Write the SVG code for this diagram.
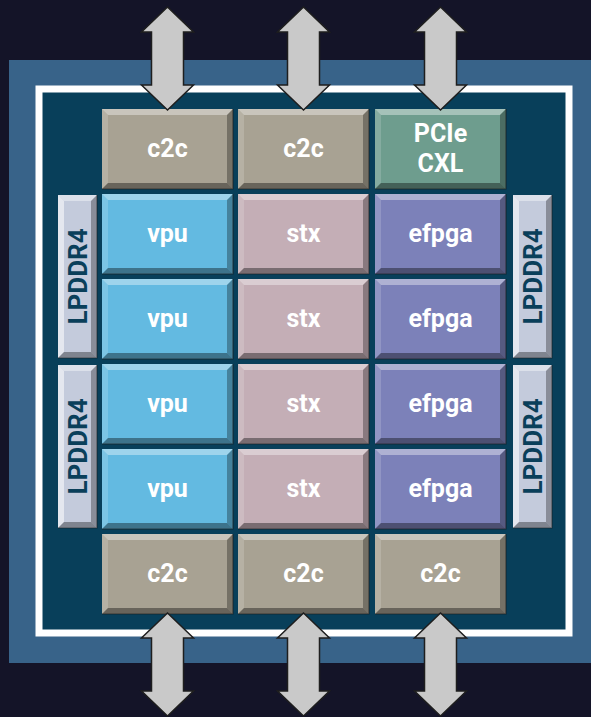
<svg xmlns="http://www.w3.org/2000/svg" xmlns:xlink="http://www.w3.org/1999/xlink" width="591" height="717" viewBox="0 0 591 717">
<style>
.lbl{font-family:Roboto,"Liberation Sans",sans-serif;font-weight:bold;font-size:25px;fill:#ffffff;text-anchor:middle}
.mem{font-family:Roboto,"Liberation Sans",sans-serif;font-weight:bold;font-size:26px;fill:#0a3f5a;text-anchor:middle}
.c2c{fill:#a8a293}
.pcie{fill:#6e9d8e}
.vpu{fill:#63bae1}
.stx{fill:#c4aeb6}
.efp{fill:#7c81b9}
.lp{fill:#c4cbdc}
.arrow{fill:#c9c9c9;stroke:#1e1e1e;stroke-width:1.5;stroke-linejoin:miter}
</style>
<defs>
<g id="bev">
<polygon points="0,0 131,0 125,6 6,6" fill="#ffffff" fill-opacity="0.38"/>
<polygon points="0,0 6,6 6,74 0,80" fill="#ffffff" fill-opacity="0.16"/>
<polygon points="131,0 131,80 125,74 125,6" fill="#000000" fill-opacity="0.3"/>
<polygon points="0,80 131,80 125,74 6,74" fill="#000000" fill-opacity="0.38"/>
<path d="M131,0 V80 H0" fill="none" stroke="#1a1a1a" stroke-opacity="0.6" stroke-width="1.2"/>
</g>
<g id="bevV">
<polygon points="0,0 39,0 33,6 6,6" fill="#ffffff" fill-opacity="0.4"/>
<polygon points="0,0 6,6 6,157 0,163" fill="#ffffff" fill-opacity="0.55"/>
<polygon points="39,0 39,163 33,157 33,6" fill="#000000" fill-opacity="0.3"/>
<polygon points="0,163 39,163 33,157 6,157" fill="#000000" fill-opacity="0.35"/>
<path d="M39,0 V163 H0" fill="none" stroke="#1a1a1a" stroke-opacity="0.5" stroke-width="1.2"/>
</g>
<path id="arr" d="M0,0 L26,25 L16,25 L16,78 L26,78 L0,103 L-26,78 L-16,78 L-16,25 L-26,25 Z"/>
</defs>
<rect x="0" y="0" width="591" height="717" fill="#141428"/>
<rect x="9" y="60" width="582" height="603" fill="#386389"/>
<rect x="39" y="89" width="530" height="544" fill="#083f5a" stroke="#ffffff" stroke-width="7"/>

<g id="c2c-top-1"><rect class="c2c" x="102" y="109" width="131" height="80"/><use xlink:href="#bev" x="102" y="109"/><text class="lbl" x="167.5" y="157">c2c</text></g>
<g id="c2c-top-2"><rect class="c2c" x="238" y="109" width="131" height="80"/><use xlink:href="#bev" x="238" y="109"/><text class="lbl" x="303.5" y="157">c2c</text></g>
<g id="pcie-cxl"><rect class="pcie" x="375" y="109" width="131" height="80"/><use xlink:href="#bev" x="375" y="109"/><text class="lbl" x="440.5" y="142">PCIe</text><text class="lbl" x="440.5" y="172">CXL</text></g>

<g id="vpu-1"><rect class="vpu" x="102" y="194" width="131" height="80"/><use xlink:href="#bev" x="102" y="194"/><text class="lbl" x="167.5" y="242">vpu</text></g>
<g id="stx-1"><rect class="stx" x="238" y="194" width="131" height="80"/><use xlink:href="#bev" x="238" y="194"/><text class="lbl" x="303.5" y="242">stx</text></g>
<g id="efpga-1"><rect class="efp" x="375" y="194" width="131" height="80"/><use xlink:href="#bev" x="375" y="194"/><text class="lbl" x="440.5" y="242">efpga</text></g>

<g id="vpu-2"><rect class="vpu" x="102" y="279" width="131" height="80"/><use xlink:href="#bev" x="102" y="279"/><text class="lbl" x="167.5" y="327">vpu</text></g>
<g id="stx-2"><rect class="stx" x="238" y="279" width="131" height="80"/><use xlink:href="#bev" x="238" y="279"/><text class="lbl" x="303.5" y="327">stx</text></g>
<g id="efpga-2"><rect class="efp" x="375" y="279" width="131" height="80"/><use xlink:href="#bev" x="375" y="279"/><text class="lbl" x="440.5" y="327">efpga</text></g>

<g id="vpu-3"><rect class="vpu" x="102" y="364" width="131" height="80"/><use xlink:href="#bev" x="102" y="364"/><text class="lbl" x="167.5" y="412">vpu</text></g>
<g id="stx-3"><rect class="stx" x="238" y="364" width="131" height="80"/><use xlink:href="#bev" x="238" y="364"/><text class="lbl" x="303.5" y="412">stx</text></g>
<g id="efpga-3"><rect class="efp" x="375" y="364" width="131" height="80"/><use xlink:href="#bev" x="375" y="364"/><text class="lbl" x="440.5" y="412">efpga</text></g>

<g id="vpu-4"><rect class="vpu" x="102" y="449" width="131" height="80"/><use xlink:href="#bev" x="102" y="449"/><text class="lbl" x="167.5" y="497">vpu</text></g>
<g id="stx-4"><rect class="stx" x="238" y="449" width="131" height="80"/><use xlink:href="#bev" x="238" y="449"/><text class="lbl" x="303.5" y="497">stx</text></g>
<g id="efpga-4"><rect class="efp" x="375" y="449" width="131" height="80"/><use xlink:href="#bev" x="375" y="449"/><text class="lbl" x="440.5" y="497">efpga</text></g>

<g id="c2c-bot-1"><rect class="c2c" x="102" y="534" width="131" height="80"/><use xlink:href="#bev" x="102" y="534"/><text class="lbl" x="167.5" y="582">c2c</text></g>
<g id="c2c-bot-2"><rect class="c2c" x="238" y="534" width="131" height="80"/><use xlink:href="#bev" x="238" y="534"/><text class="lbl" x="303.5" y="582">c2c</text></g>
<g id="c2c-bot-3"><rect class="c2c" x="375" y="534" width="131" height="80"/><use xlink:href="#bev" x="375" y="534"/><text class="lbl" x="440.5" y="582">c2c</text></g>

<g id="lpddr4-l1"><rect class="lp" x="58" y="195" width="39" height="163"/><use xlink:href="#bevV" x="58" y="195"/><text class="mem" transform="translate(77.5,276.5) rotate(-90)" x="0" y="9.5">LPDDR4</text></g>
<g id="lpddr4-l2"><rect class="lp" x="58" y="365" width="39" height="163"/><use xlink:href="#bevV" x="58" y="365"/><text class="mem" transform="translate(77.5,446.5) rotate(-90)" x="0" y="9.5">LPDDR4</text></g>
<g id="lpddr4-r1"><rect class="lp" x="513" y="195" width="39" height="163"/><use xlink:href="#bevV" x="513" y="195"/><text class="mem" transform="translate(532.5,276.5) rotate(-90)" x="0" y="9.5">LPDDR4</text></g>
<g id="lpddr4-r2"><rect class="lp" x="513" y="365" width="39" height="163"/><use xlink:href="#bevV" x="513" y="365"/><text class="mem" transform="translate(532.5,446.5) rotate(-90)" x="0" y="9.5">LPDDR4</text></g>

<g id="connectors">
<use xlink:href="#arr" class="arrow" transform="translate(167.5,7)"/>
<use xlink:href="#arr" class="arrow" transform="translate(303.5,7)"/>
<use xlink:href="#arr" class="arrow" transform="translate(440.5,7)"/>
<use xlink:href="#arr" class="arrow" transform="translate(167.5,613)"/>
<use xlink:href="#arr" class="arrow" transform="translate(303.5,613)"/>
<use xlink:href="#arr" class="arrow" transform="translate(440.5,613)"/>
</g>
</svg>
